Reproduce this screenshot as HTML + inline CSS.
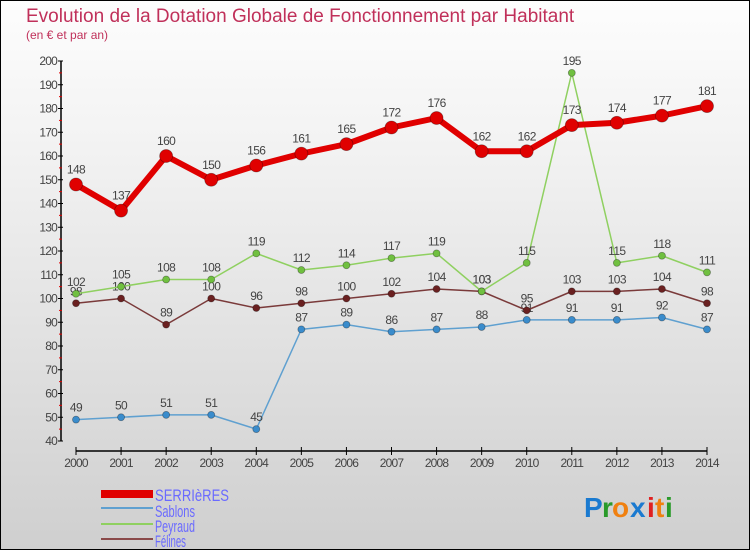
<!DOCTYPE html>
<html><head><meta charset="utf-8"><style>
body{margin:0}
#c{width:750px;height:550px;position:relative;box-sizing:border-box;border:1px solid #000;background:linear-gradient(#fdfdfd,#f3f3f3 25%,#cfcfcf);font-family:"Liberation Sans",sans-serif;overflow:hidden}
svg text{font-family:"Liberation Sans",sans-serif}
</style></head><body>
<div id="c">
<svg id="s" width="750" height="550" xmlns="http://www.w3.org/2000/svg">
<text x="25" y="21" font-size="19" fill="#c0305a">Evolution de la Dotation Globale de Fonctionnement par Habitant</text>
<text x="25" y="38" font-size="12" fill="#c0305a">(en € et par an)</text>
<g id="axes"></g><g id="series"></g>
<g>
<rect x="100" y="489" width="52" height="8" fill="#e00000"/>
<line x1="100" x2="152" y1="507" y2="507" stroke="#5fa0d0" stroke-width="2"/>
<line x1="100" x2="152" y1="523" y2="523" stroke="#8fd060" stroke-width="2"/>
<line x1="100" x2="152" y1="538" y2="538" stroke="#8a4a4a" stroke-width="2"/>
<text x="154" y="500" font-size="17" fill="#6a6aff" textLength="74" lengthAdjust="spacingAndGlyphs">SERRIèRES</text>
<text x="154" y="516" font-size="17" fill="#6a6aff" textLength="40" lengthAdjust="spacingAndGlyphs">Sablons</text>
<text x="154" y="531" font-size="17" fill="#6a6aff" textLength="40" lengthAdjust="spacingAndGlyphs">Peyraud</text>
<text x="154" y="546" font-size="17" fill="#6a6aff" textLength="31" lengthAdjust="spacingAndGlyphs">Félines</text>
</g>
<g font-size="28" font-weight="bold">
<text x="583" y="516" fill="#1a7ad0">P</text><text x="601" y="516" fill="#2a9a2a">r</text><text x="611" y="516" fill="#f08010">o</text><text x="629" y="516" fill="#1a7ad0">x</text><text x="646" y="516" fill="#e02020">i</text><text x="654" y="516" fill="#f08010">t</text><text x="664" y="516" fill="#2a9a2a">i</text>
</g>
</svg>
</div>
<script>
const years=[2000,2001,2002,2003,2004,2005,2006,2007,2008,2009,2010,2011,2012,2013,2014];
const serrieres=[148,137,160,150,156,161,165,172,176,162,162,173,174,177,181];
const sablons=[49,50,51,51,45,87,89,86,87,88,91,91,91,92,87];
const peyraud=[102,105,108,108,119,112,114,117,119,103,115,195,115,118,111];
const felines=[98,100,89,100,96,98,100,102,104,103,95,103,103,104,98];
const yTicks=[40,50,60,70,80,90,100,110,120,130,140,150,160,170,180,190,200];
const NS="http://www.w3.org/2000/svg";
const X=i=>75+i*(706-75)/(years.length-1);
const Y=v=>440-(v-40)*(380/160);
function el(t,a,p){const e=document.createElementNS(NS,t);for(const k in a)e.setAttribute(k,a[k]);p.appendChild(e);return e;}
const ax=document.getElementById('axes');
const yl=el('line',{x1:60,x2:60,y1:60,y2:440,stroke:'#000','stroke-width':1.5},ax);


yTicks.forEach(v=>{
 el('line',{x1:57,x2:62,y1:Y(v),y2:Y(v),stroke:'#000'},ax);
 if(v<200)el('line',{x1:58,x2:61,y1:Y(v+5),y2:Y(v+5),stroke:'#e00000'},ax);
 const t=el('text',{x:56,y:Y(v)+4,'font-size':12,fill:'#444','text-anchor':'end','letter-spacing':'-0.8'},ax);t.textContent=v;
 
 
});
const xl=el('line',{x1:75,x2:706,y1:450,y2:450,stroke:'#000','stroke-width':1.5},ax);


years.forEach((y,i)=>{
 el('line',{x1:X(i),x2:X(i),y1:446,y2:454,stroke:'#000'},ax);
 const t=el('text',{x:X(i),y:466,'font-size':12,fill:'#444','text-anchor':'middle','letter-spacing':'-0.8'},ax);t.textContent=y;
 
 
});
const sg=document.getElementById('series');
function draw(name,data,color,dot,w,r,dy){
 const g=el('g',{},sg);
 
 
 el('polyline',{points:data.map((v,i)=>X(i)+','+Y(v)).join(' '),fill:'none',stroke:color,'stroke-width':w,'stroke-linejoin':'round'},g);
 data.forEach((v,i)=>{
  const c=el('circle',{cx:X(i),cy:Y(v),r:r,fill:dot,stroke:'rgba(0,0,0,0.35)','stroke-width':0.8},g);
  
  
  const t=el('text',{x:X(i),y:Y(v)-dy,'font-size':12,fill:'#444','text-anchor':'middle','letter-spacing':'-0.6'},g);t.textContent=v;
  
  
 });
}
draw('sablons',sablons,'#5fa0d0','#3a8ccc',1.5,3.5,8);
draw('felines',felines,'#7a3a3a','#6a2020',1.5,3.5,8);
draw('peyraud',peyraud,'#8fd060','#70c040',1.5,3.5,8);
draw('serrieres',serrieres,'#e00000','#e00000',6,6.5,11);
</script>
</body></html>
